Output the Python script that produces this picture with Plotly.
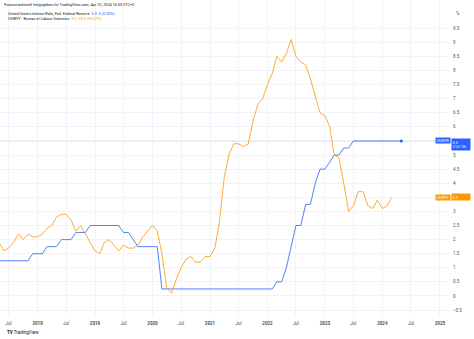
import pandas as pd
import plotly.graph_objects as go

# ---- data (monthly) ----
rate_start = "2017-05-01"
fed_rate = [
    1.25, 1.25, 1.25, 1.25, 1.25, 1.25, 1.25, 1.5,                       # 2017 May-Dec
    1.5, 1.5, 1.75, 1.75, 1.75, 2.0, 2.0, 2.0, 2.25, 2.25, 2.25, 2.5,     # 2018
    2.5, 2.5, 2.5, 2.5, 2.5, 2.5, 2.25, 2.25, 2.0, 1.75, 1.75, 1.75,      # 2019
    1.75, 1.75, 0.25, 0.25, 0.25, 0.25, 0.25, 0.25, 0.25, 0.25, 0.25, 0.25,  # 2020
    0.25, 0.25, 0.25, 0.25, 0.25, 0.25, 0.25, 0.25, 0.25, 0.25, 0.25, 0.25,  # 2021
    0.25, 0.25, 0.5, 0.5, 1.0, 1.75, 2.5, 2.5, 3.25, 3.25, 4.0, 4.5,      # 2022
    4.5, 4.75, 5.0, 5.0, 5.25, 5.25, 5.5, 5.5, 5.5, 5.5, 5.5, 5.5,        # 2023
    5.5, 5.5, 5.5, 5.5, 5.5,                                              # 2024 Jan-May
]
cpi_start = "2017-05-01"
cpi_yoy = [
    1.9, 1.6, 1.7, 1.9, 2.2, 2.0, 2.2, 2.1,                               # 2017 May-Dec
    2.1, 2.2, 2.4, 2.5, 2.8, 2.9, 2.9, 2.7, 2.3, 2.5, 2.2, 1.9,           # 2018
    1.6, 1.5, 1.9, 2.0, 1.8, 1.6, 1.8, 1.7, 1.7, 1.8, 2.1, 2.3,           # 2019
    2.5, 2.3, 1.5, 0.3, 0.1, 0.6, 1.0, 1.3, 1.4, 1.2, 1.2, 1.4,           # 2020
    1.4, 1.7, 2.6, 4.2, 5.0, 5.4, 5.4, 5.3, 5.4, 6.2, 6.8, 7.0,           # 2021
    7.5, 7.9, 8.5, 8.3, 8.6, 9.1, 8.5, 8.3, 8.2, 7.7, 7.1, 6.5,           # 2022
    6.4, 6.0, 5.0, 4.9, 4.0, 3.0, 3.2, 3.7, 3.7, 3.2, 3.1, 3.4,           # 2023
    3.1, 3.2, 3.5,                                                        # 2024 Jan-Mar
]
x_tick_vals = ["2017-07-01", "2018-01-01", "2018-07-01", "2019-01-01", "2019-07-01",
               "2020-01-01", "2020-07-01", "2021-01-01", "2021-07-01", "2022-01-01",
               "2022-07-01", "2023-01-01", "2023-07-01", "2024-01-01", "2024-07-01",
               "2025-01-01"]
x_tick_text = ["Jul", "<b>2018</b>", "Jul", "<b>2019</b>", "Jul", "<b>2020</b>", "Jul",
               "<b>2021</b>", "Jul", "<b>2022</b>", "Jul", "<b>2023</b>", "Jul",
               "<b>2024</b>", "Jul", "<b>2025</b>"]
y_tick_vals = [-0.5, 0, 0.5, 1, 1.5, 2, 2.5, 3, 3.5, 4, 4.5, 5, 5.5, 6, 6.5, 7, 7.5,
               8, 8.5, 9, 9.5]

BLUE = "#2962FF"
ORANGE = "#FF9800"
FONT = "Roboto"

rate_dates = pd.date_range(rate_start, periods=len(fed_rate), freq="MS")
cpi_dates = pd.date_range(cpi_start, periods=len(cpi_yoy), freq="MS")

fig = go.Figure()
fig.add_trace(go.Scatter(x=rate_dates, y=fed_rate, mode="lines",
                         line=dict(color=BLUE, width=1), opacity=0.8,
                         hoverinfo="skip"))
fig.add_trace(go.Scatter(x=[rate_dates[-1]], y=[fed_rate[-1]], mode="markers",
                         marker=dict(color=BLUE, size=3), hoverinfo="skip"))
fig.add_trace(go.Scatter(x=cpi_dates, y=cpi_yoy, mode="lines",
                         line=dict(color=ORANGE, width=1), opacity=0.8,
                         hoverinfo="skip"))

# last value price line
fig.add_shape(type="line", xref="paper", x0=0, x1=1, yref="y",
              y0=fed_rate[-1], y1=fed_rate[-1],
              line=dict(color="#c3cde8", width=1), layer="below")

fig.update_layout(
    width=474, height=339,
    margin=dict(l=0, r=25, t=0, b=23),
    paper_bgcolor="white", plot_bgcolor="white",
    showlegend=False,
    font=dict(family=FONT, size=5, color="#131722"),
    xaxis=dict(range=["2017-05-07", "2025-02-28"], tickvals=x_tick_vals,
               ticktext=x_tick_text, showgrid=True, gridcolor="#f0f3fa",
               gridwidth=1, zeroline=False, showline=False, ticks="",
               tickfont=dict(size=4.5, color="#4a4f5c"), ticklabelstandoff=3),
    yaxis=dict(range=[-0.71, 10.5], side="right", tickvals=y_tick_vals,
               showgrid=True, gridcolor="#f0f3fa", gridwidth=1, zeroline=False,
               showline=False, ticks="", tickfont=dict(size=4.5, color="#4a4f5c"),
               ticklabelstandoff=3),
)

anns = []
# header / legend texts
anns.append(dict(xref="paper", yref="paper", x=0.004, y=1 - 5 / 316, xanchor="left",
                 yanchor="middle", showarrow=False,
                 text="Finanzmarktwelt freigegeben für TradingView.com, Apr 10, 2024 16:55 UTC+2",
                 font=dict(size=3.8, color="#131722")))
anns.append(dict(xref="paper", yref="paper", x=0.013, y=1 - 13 / 316, xanchor="left",
                 yanchor="middle", showarrow=False,
                 text="United States Interest Rate, Fed. Federal Reserve  "
                      f"<span style='color:{BLUE}'>{fed_rate[-1]:g}  0 (0.00%)</span>",
                 font=dict(size=3.8, color="#131722")))
anns.append(dict(xref="paper", yref="paper", x=0.013, y=1 - 19 / 316, xanchor="left",
                 yanchor="middle", showarrow=False,
                 text="USIRYY · Bureau of Labour Statistics  "
                      f"<span style='color:{ORANGE}'>{cpi_yoy[-1]:g}  +0.3 (+9.37%)</span>",
                 font=dict(size=3.8, color="#131722")))
# unit label
anns.append(dict(xref="paper", yref="paper", x=1, y=1 - 13 / 316, xanchor="left",
                 yanchor="middle", xshift=5, showarrow=False, text="%",
                 font=dict(size=4.5, color="#4a4f5c")))
# price labels
for name, val, col, extra in [("USINTR", fed_rate[-1], BLUE, "<br>21d 13h"),
                              ("USIRYY", cpi_yoy[-1], ORANGE, "")]:
    anns.append(dict(xref="paper", yref="y", x=1, y=val, xanchor="right",
                     yanchor="middle", xshift=2, showarrow=False, text=name,
                     bgcolor=col, borderpad=0.5,
                     font=dict(size=3.6, color="white")))
    anns.append(dict(xref="paper", yref="y", x=1, y=val, xanchor="left",
                     yanchor="top" if extra else "middle", yshift=2.5 if extra else 0,
                     xshift=2, showarrow=False, text=f"{val:g}{extra}", align="left",
                     bgcolor=col, borderpad=0.5, width=17,
                     font=dict(size=3.8, color="white")))
# TradingView logo text
anns.append(dict(xref="paper", yref="paper", x=0.012, y=-16 / 316, xanchor="left",
                 yanchor="middle", showarrow=False,
                 text="<b>TV</b> TradingView", font=dict(size=4.5, color="#131722")))
fig.update_layout(annotations=anns)

fig.write_html("out.html")
